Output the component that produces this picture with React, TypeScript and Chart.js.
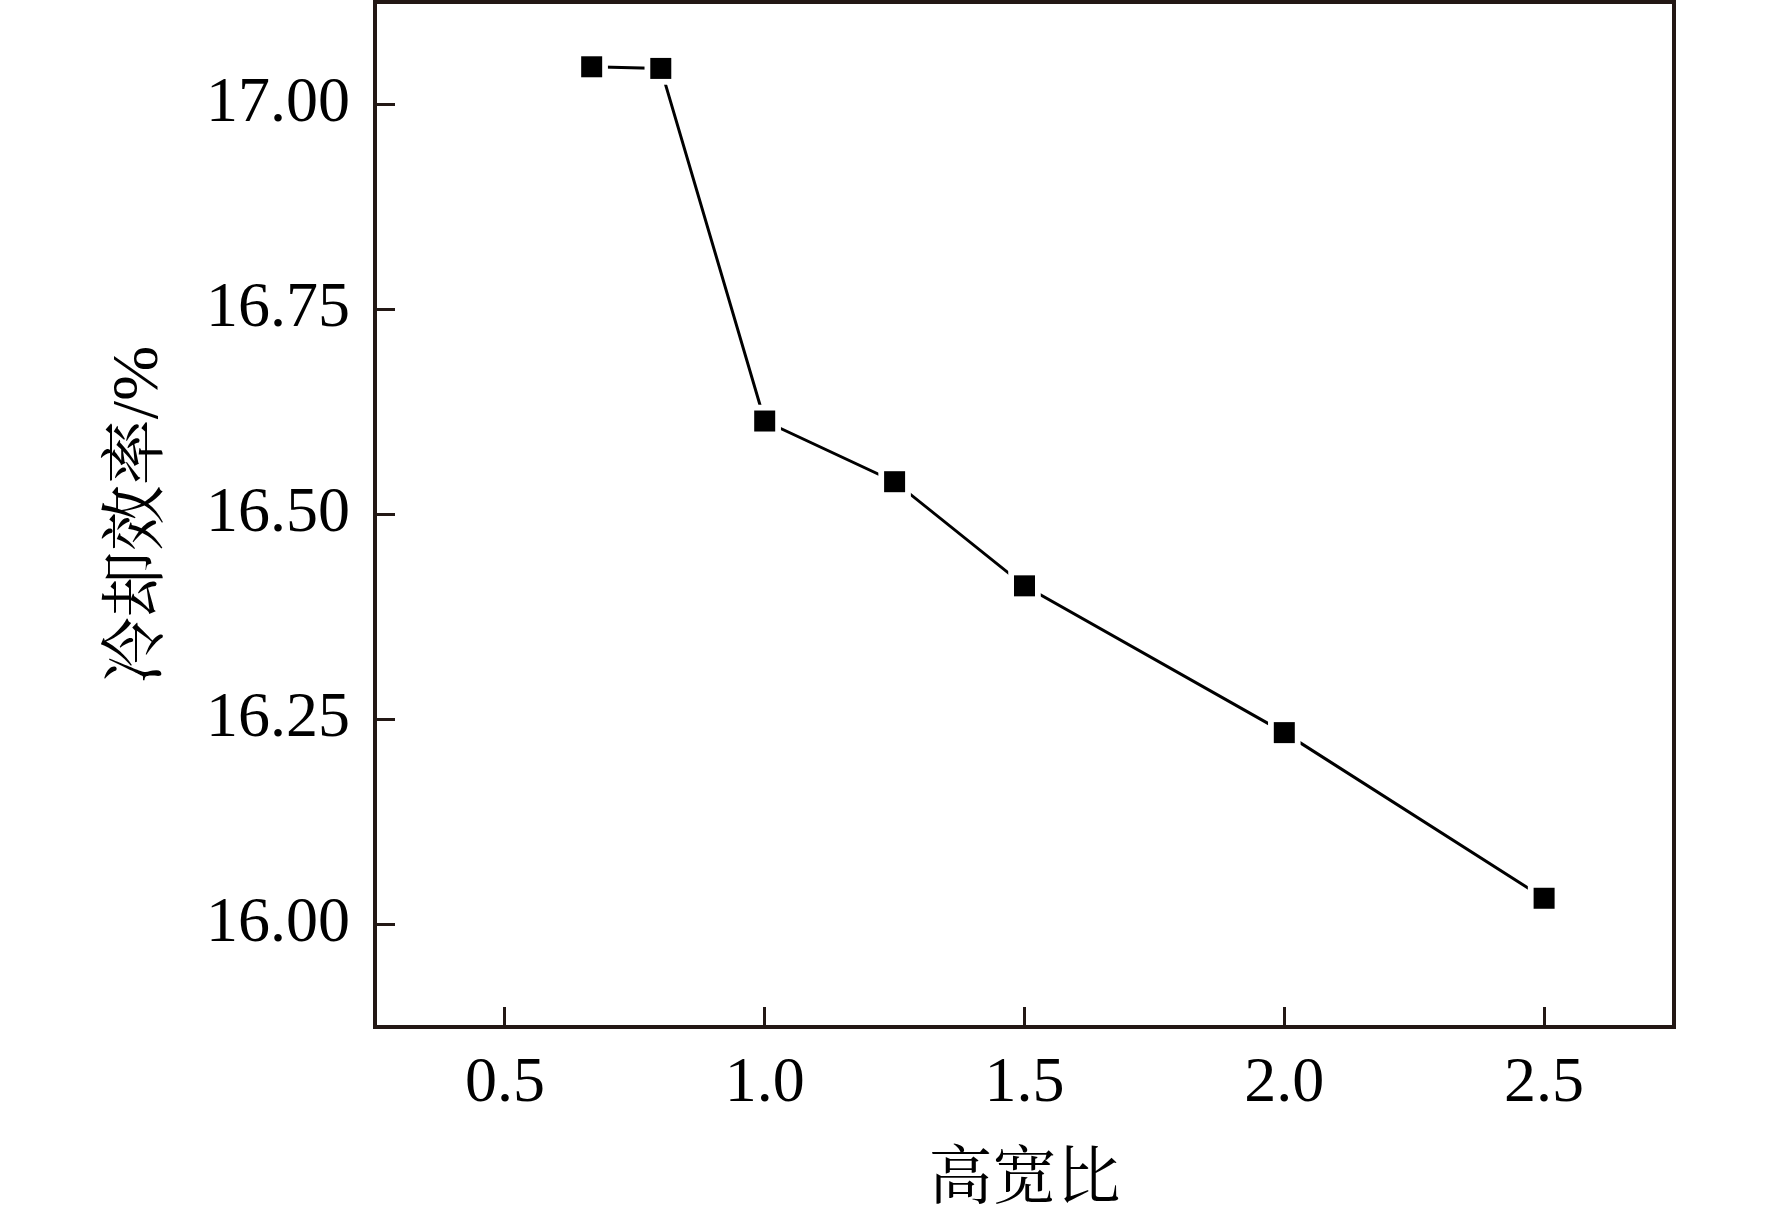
import React, { useEffect, useRef } from 'react';
import { Chart, registerables } from 'chart.js';

Chart.register(...registerables);

// 高宽比 vs 冷却效率
const aspectRatio = [0.667, 0.8, 1.0, 1.25, 1.5, 2.0, 2.5];
const coolingEfficiency = [17.046, 17.044, 16.614, 16.54, 16.413, 16.234, 16.032];
const xTickValues = [0.5, 1.0, 1.5, 2.0, 2.5];
const yTickValues = [16.0, 16.25, 16.5, 16.75, 17.0];

const AXIS_COLOR = '#231815';
const FONT = "'Liberation Serif', 'Times New Roman', 'Noto Serif CJK SC', 'Noto Sans CJK SC', serif";

// 画上边框和右边框
const framePlugin = {
  id: 'frame',
  afterDraw(chart: any) {
    const { ctx, chartArea } = chart;
    ctx.save();
    ctx.strokeStyle = AXIS_COLOR;
    ctx.lineWidth = 4;
    ctx.beginPath();
    ctx.moveTo(chartArea.left - 2, chartArea.top);
    ctx.lineTo(chartArea.right, chartArea.top);
    ctx.lineTo(chartArea.right, chartArea.bottom + 2);
    ctx.stroke();
    ctx.restore();
  },
};

const App: React.FC = () => {
  const canvasRef = useRef<HTMLCanvasElement>(null);

  useEffect(() => {
    const points = aspectRatio.map((x, i) => ({ x, y: coolingEfficiency[i] }));
    const chart = new Chart(canvasRef.current!, {
      type: 'line',
      data: {
        datasets: [
          {
            data: points,
            showLine: false,
            pointStyle: 'rect',
            pointRadius: 14.85,
            pointBackgroundColor: '#000',
            pointBorderWidth: 0,
            order: 1,
          },
          {
            data: points,
            showLine: false,
            pointStyle: 'rect',
            pointRadius: 23,
            pointBackgroundColor: '#fff',
            pointBorderWidth: 0,
            order: 2,
          },
          {
            data: points,
            borderColor: '#000',
            borderWidth: 3,
            tension: 0,
            pointRadius: 0,
            order: 3,
          },
        ],
      },
      options: {
        animation: false,
        responsive: true,
        maintainAspectRatio: false,
        layout: { autoPadding: false, padding: { top: 2, right: 98, bottom: 0, left: 0 } },
        plugins: { legend: { display: false }, tooltip: { enabled: false } },
        scales: {
          x: {
            type: 'linear',
            min: 0.25,
            max: 2.75,
            afterBuildTicks: (scale: any) => {
              scale.ticks = xTickValues.map((v) => ({ value: v }));
            },
            afterFit: (scale: any) => {
              scale.height = 193;
              scale.paddingLeft = 0;
              scale.paddingRight = 0;
            },
            grid: {
              drawOnChartArea: false,
              color: AXIS_COLOR,
              lineWidth: 3,
              tickLength: -20,
            },
            border: { color: AXIS_COLOR, width: 4 },
            ticks: {
              padding: 39,
              color: '#000',
              font: { family: FONT, size: 64 },
              maxRotation: 0,
              callback: (v: any) => Number(v).toFixed(1),
            },
            title: {
              display: true,
              text: '高宽比',
              color: '#000',
              font: { family: FONT, size: 64 },
              padding: { top: 0, bottom: 0 },
            },
          },
          y: {
            type: 'linear',
            min: 15.875,
            max: 17.125,
            afterBuildTicks: (scale: any) => {
              scale.ticks = yTickValues.map((v) => ({ value: v }));
            },
            afterFit: (scale: any) => {
              scale.width = 375;
              scale.paddingTop = 0;
              scale.paddingBottom = 0;
            },
            grid: {
              drawOnChartArea: false,
              color: AXIS_COLOR,
              lineWidth: 3,
              tickLength: -20,
            },
            border: { color: AXIS_COLOR, width: 4 },
            ticks: {
              padding: 45,
              color: '#000',
              font: { family: FONT, size: 64 },
              callback: (v: any) => Number(v).toFixed(2),
            },
            title: {
              display: true,
              text: '冷却效率/%',
              color: '#000',
              font: { family: FONT, size: 66 },
              padding: { top: 100, bottom: 0 },
            },
          },
        },
      },
      plugins: [framePlugin],
    });

    return () => {
      chart.destroy();
    };
  }, []);

  return (
    <div style={{ position: 'fixed', left: 0, top: 0, width: 1772, height: 1220, background: '#fff' }}>
      <canvas ref={canvasRef} />
    </div>
  );
};

export default App;
